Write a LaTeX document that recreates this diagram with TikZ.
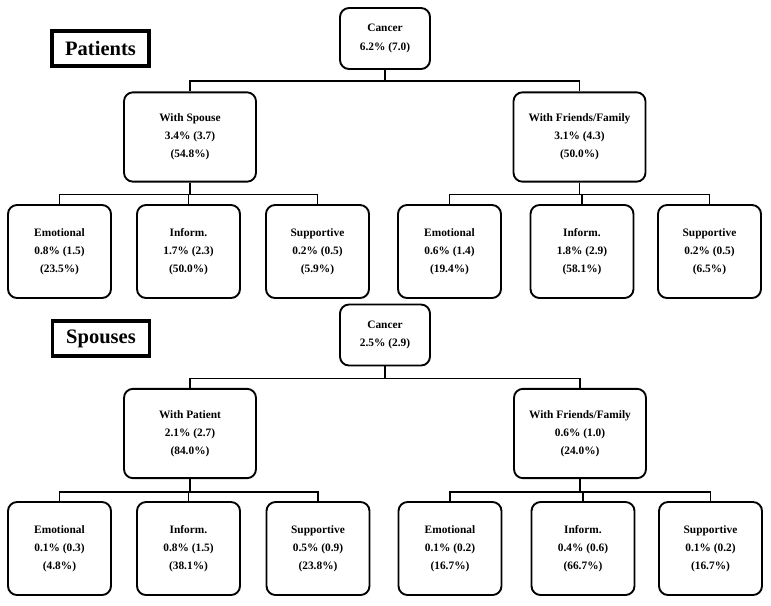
\documentclass[tikz,border=0pt]{standalone}
\usepackage{fontspec}
\setmainfont{Liberation Serif}
\usepackage{tikz}

\begin{document}
\begin{tikzpicture} [x=0.03cm, y=-0.03cm, align=center,
	box/.style={draw, line width=1.6pt, rounded corners=0.27cm, font=\bfseries\fontsize{9.7}{15.5}\selectfont},
	leaf/.style={box, minimum width=3.09cm, minimum height=2.79cm},
	mid/.style={box, minimum width=3.96cm, minimum height=2.68cm},
	top/.style={box, minimum width=2.7cm, minimum height=1.83cm},
	group/.style={draw, line width=2.8pt, minimum width=2.91cm, minimum height=1.05cm, font=\bfseries\fontsize{17.5}{20}\selectfont},
	link/.style={line width=1.5pt}]
\useasboundingbox (0, 0) rectangle (771, 605);

% Patients
\path (100.5, 48.5) node[group] (pl) {Patients}
	  (385, 38.5) node[top] (p0) {Cancer\\6.2\% (7.0)}
	  (190, 137) node[mid] (p1) {With Spouse\\3.4\% (3.7)\\(54.8\%)}
	  (579.5, 137) node[mid] (p2) {With Friends/Family\\3.1\% (4.3)\\(50.0\%)}
	  (59.5, 251.5) node[leaf] (p3) {Emotional\\0.8\% (1.5)\\(23.5\%)}
	  (188.5, 251.5) node[leaf] (p4) {Inform.\\1.7\% (2.3)\\(50.0\%)}
	  (317.5, 251.5) node[leaf] (p5) {Supportive\\0.2\% (0.5)\\(5.9\%)}
	  (449.5, 251.5) node[leaf] (p6) {Emotional\\0.6\% (1.4)\\(19.4\%)}
	  (582, 251.5) node[leaf] (p7) {Inform.\\1.8\% (2.9)\\(58.1\%)}
	  (709.5, 251.5) node[leaf] (p8) {Supportive\\0.2\% (0.5)\\(6.5\%)};

\draw[link] (p0.south) -- ++(0, 11) -| (p1.north);
\draw[link] (p0.south) -- ++(0, 11) -| (p2.north);
\draw[link] (p1.south) -- ++(0, 12) -| (p3.north);
\draw[link] (p1.south) -- ++(0, 12) -| (p4.north);
\draw[link] (p1.south) -- ++(0, 12) -| (p5.north);
\draw[link] (p2.south) -- ++(0, 12) -| (p6.north);
\draw[link] (p2.south) -- ++(0, 12) -| (p7.north);
\draw[link] (p2.south) -- ++(0, 12) -| (p8.north);

% Spouses
\path (101, 338.5) node[group] (sl) {Spouses}
	  (385, 335) node[top] (s0) {Cancer\\2.5\% (2.9)}
	  (190, 433.5) node[mid] (s1) {With Patient\\2.1\% (2.7)\\(84.0\%)}
	  (580, 433.5) node[mid] (s2) {With Friends/Family\\0.6\% (1.0)\\(24.0\%)}
	  (59.5, 548.5) node[leaf] (s3) {Emotional\\0.1\% (0.3)\\(4.8\%)}
	  (188.5, 548.5) node[leaf] (s4) {Inform.\\0.8\% (1.5)\\(38.1\%)}
	  (318, 548.5) node[leaf] (s5) {Supportive\\0.5\% (0.9)\\(23.8\%)}
	  (450, 548.5) node[leaf] (s6) {Emotional\\0.1\% (0.2)\\(16.7\%)}
	  (583, 548.5) node[leaf] (s7) {Inform.\\0.4\% (0.6)\\(66.7\%)}
	  (710.5, 548.5) node[leaf] (s8) {Supportive\\0.1\% (0.2)\\(16.7\%)};

\draw[link] (s0.south) -- ++(0, 12) -| (s1.north);
\draw[link] (s0.south) -- ++(0, 12) -| (s2.north);
\draw[link] (s1.south) -- ++(0, 13) -| (s3.north);
\draw[link] (s1.south) -- ++(0, 13) -| (s4.north);
\draw[link] (s1.south) -- ++(0, 13) -| (s5.north);
\draw[link] (s2.south) -- ++(0, 13) -| (s6.north);
\draw[link] (s2.south) -- ++(0, 13) -| (s7.north);
\draw[link] (s2.south) -- ++(0, 13) -| (s8.north);
\end{tikzpicture}
\end{document}
